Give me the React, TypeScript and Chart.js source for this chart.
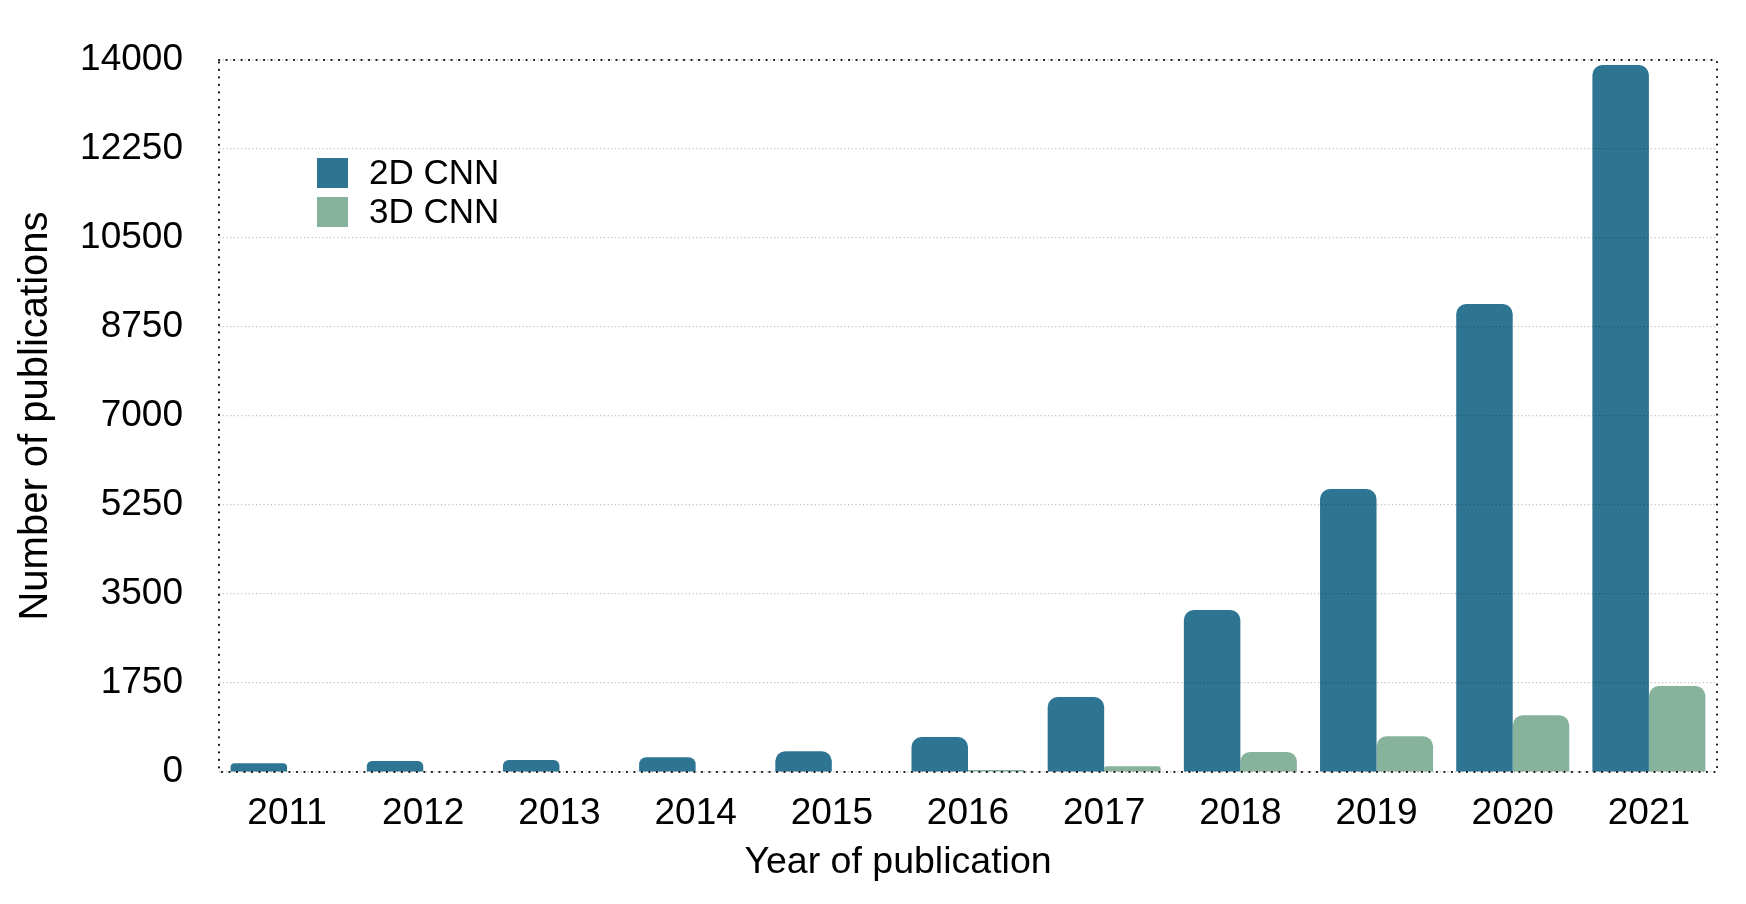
import React, { useEffect, useRef } from "react";
import { Chart, registerables } from "chart.js";

Chart.register(...registerables);

const years = ["2011", "2012", "2013", "2014", "2015", "2016", "2017", "2018", "2019", "2020", "2021"];
const cnn2d = [171, 216, 236, 289, 407, 688, 1475, 3185, 5565, 9202, 13900];
const cnn3d = [0, 0, 0, 0, 0, 40, 112, 393, 702, 1115, 1690];
const yTicks = [0, 1750, 3500, 5250, 7000, 8750, 10500, 12250, 14000];
const seriesLabels = ["2D CNN", "3D CNN"];
const seriesColors = ["#2E7593", "#87B29C"];
const xTitle = "Year of publication";
const yTitle = "Number of publications";

const FONT = "'Liberation Sans', Arial, Helvetica, sans-serif";

const frameAndLegend = {
  id: "frameAndLegend",
  afterDatasetsDraw(chart: any) {
    const { ctx, chartArea } = chart;
    ctx.save();
    ctx.strokeStyle = "#111";
    ctx.lineWidth = 2.2;
    ctx.lineCap = "round";
    ctx.setLineDash([0.1, 7.4]);
    ctx.strokeRect(chartArea.left, chartArea.top, chartArea.right - chartArea.left, chartArea.bottom - chartArea.top);
    ctx.restore();
  },
  afterDraw(chart: any) {
    const { ctx } = chart;
    ctx.save();
    const x0 = 317;
    const y0 = 158;
    chart.data.datasets.forEach((ds: any, i: number) => {
      const y = y0 + i * 39;
      ctx.fillStyle = ds.backgroundColor;
      ctx.fillRect(x0, y, 31, 30);
      ctx.fillStyle = "#000";
      ctx.font = `35px ${FONT}`;
      ctx.textBaseline = "middle";
      ctx.textAlign = "left";
      ctx.fillText(ds.label, 369, y + 16);
    });
    // x axis title
    ctx.font = `37.5px ${FONT}`;
    ctx.textAlign = "center";
    ctx.textBaseline = "middle";
    ctx.fillStyle = "#000";
    ctx.fillText(xTitle, 898, 863);
    ctx.restore();
  },
};

export default function App() {
  const ref = useRef<HTMLCanvasElement>(null);
  useEffect(() => {
    const canvas = ref.current!;
    const chart = new Chart(canvas, {
      type: "bar",
      data: {
        labels: years,
        datasets: [
          {
            label: seriesLabels[0],
            data: cnn2d,
            backgroundColor: seriesColors[0],
            borderRadius: 10,
            borderSkipped: "start",
            categoryPercentage: 0.83,
            barPercentage: 1,
          },
          {
            label: seriesLabels[1],
            data: cnn3d,
            backgroundColor: seriesColors[1],
            borderRadius: 10,
            borderSkipped: "start",
            categoryPercentage: 0.83,
            barPercentage: 1,
          },
        ],
      },
      options: {
        responsive: false,
        animation: false,
        layout: { padding: { top: 60, right: 29, left: 0, bottom: 0 } },
        plugins: {
          legend: { display: false },
          tooltip: { enabled: false },
        },
        scales: {
          x: {
            grid: { display: false, drawTicks: false },
            border: { display: false },
            ticks: {
              color: "#000",
              font: { family: FONT, size: 37 },
              padding: 20,
              maxRotation: 0,
            },
            afterFit: (s: any) => {
              s.height = 132;
            },
          },
          y: {
            min: 0,
            max: 14000,
            afterBuildTicks: (s: any) => {
              s.ticks = yTicks.map((v) => ({ value: v }));
            },
            grid: {
              color: "rgba(0,0,0,0.25)",
              lineWidth: 1.2,
              drawTicks: false,
              z: 1,
            },
            border: { display: false, dash: [1.2, 2.5] },
            ticks: {
              color: "#000",
              font: { family: FONT, size: 37 },
              padding: 36,
              callback: (v: any) => String(v),
            },
            title: {
              display: true,
              text: yTitle,
              color: "#000",
              font: { family: FONT, size: 40 },
              padding: { top: 12, bottom: 12 },
            },
            afterFit: (s: any) => {
              s.width = 219;
            },
          },
        },
      },
      plugins: [frameAndLegend],
    });
    return () => chart.destroy();
  }, []);
  return (
    <canvas
      ref={ref}
      width={1746}
      height={904}
      style={{ position: "fixed", left: 0, top: 0, display: "block", background: "#fff" }}
    />
  );
}
